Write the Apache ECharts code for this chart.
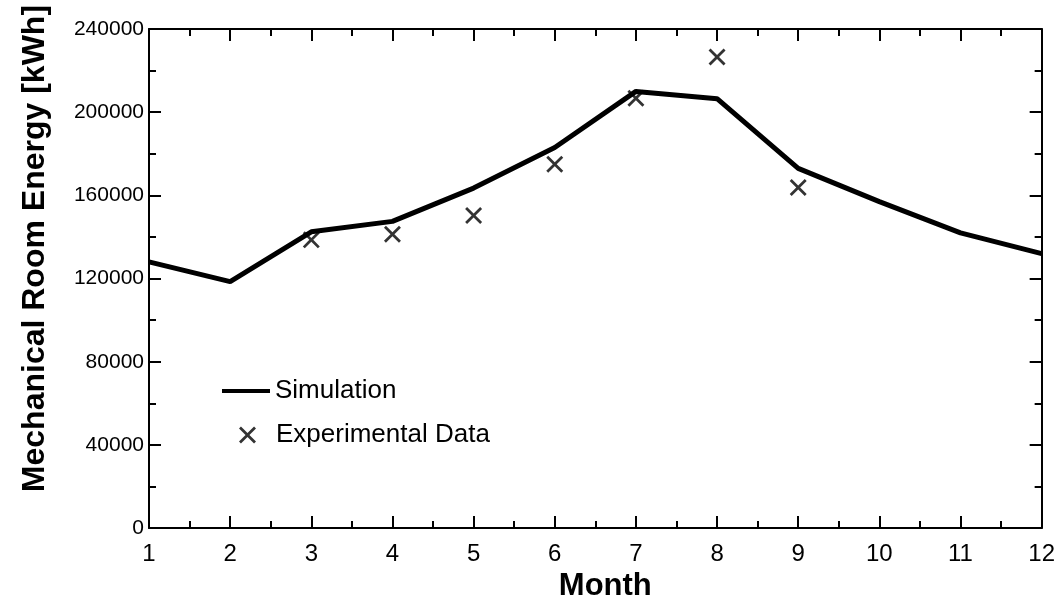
<!DOCTYPE html>
<html>
<head>
<meta charset="utf-8">
<title>Mechanical Room Energy</title>
<script src="https://cdn.jsdelivr.net/npm/echarts@6/dist/echarts.min.js"></script>
<style>
  html,body{margin:0;padding:0;background:#fff;}
  #chart{width:1058px;height:607px;}
</style>
</head>
<body>
<div id="chart"></div>
<script>
// data
var months = [1,2,3,4,5,6,7,8,9,10,11,12];
var simValues = [128000,118500,142500,147500,163500,183000,210000,206500,173000,157000,142000,132000];
var expMonths = [3,4,5,6,7,8,9];
var expValues = [138600,141300,150300,175000,206700,226500,163800];
var yTicks = [0,40000,80000,120000,160000,200000,240000];

var FONT = '"Liberation Sans", Arial, sans-serif';
// cross marker, drawn as a filled outline
var CROSS = 'path://M0,2.3L2.3,0L10,7.7L17.7,0L20,2.3L12.3,10L20,17.7L17.7,20L10,12.3L2.3,20L0,17.7L7.7,10Z';

var simData = [], expData = [];
for (var i = 0; i < months.length; i++) simData.push([months[i], simValues[i]]);
for (var j = 0; j < expMonths.length; j++) expData.push([expMonths[j], expValues[j]]);

function axisBase(pos, isX, show){
    return {
        type:'value',
        position:pos,
        min: isX ? months[0] : yTicks[0],
        max: isX ? months[months.length-1] : yTicks[yTicks.length-1],
        interval: isX ? 1 : 40000,
        axisLine:{show:true,onZero:false,lineStyle:{color:'#000',width:2}},
        axisTick:{show:true,inside:true,length:12,lineStyle:{color:'#000',width:2}},
        minorTick:{show:true,splitNumber:2,length:7,lineStyle:{color:'#000',width:2}},
        splitLine:{show:false},
        axisLabel:{
            show:show,color:'#000',fontFamily:FONT,fontSize:isX?24:21,margin:isX?14:5,
            formatter:function(v){ return String(v); } // no thousands separator
        }
    };
}

var xMain = axisBase('bottom', true, true);
xMain.name = 'Month';
xMain.nameLocation = 'middle';
xMain.nameGap = 40;
xMain.nameTextStyle = {color:'#000',fontFamily:FONT,fontSize:31,fontWeight:'bold',padding:[0,0,0,20]};

var yMain = axisBase('left', false, true);
yMain.name = 'Mechanical Room Energy [kWh]';
yMain.nameLocation = 'middle';
yMain.nameGap = 98;
yMain.nameTextStyle = {color:'#000',fontFamily:FONT,fontSize:32,fontWeight:'bold',padding:[0,0,0,60]};

var xTop = axisBase('top', true, false);
var yRight = axisBase('right', false, false);

var chart = echarts.init(document.getElementById('chart'), null, {renderer:'canvas'});
chart.setOption({
    animation:false,
    backgroundColor:'#fff',
    grid:{left:149,right:16,top:29,bottom:73,containLabel:false},
    xAxis:[xMain, xTop],
    yAxis:[yMain, yRight],
    legend:[{
        data:[{name:'Simulation',icon:'rect'}],
        left:222, top:377, orient:'vertical', padding:0,
        itemWidth:48, itemHeight:4, itemGap:0,
        textStyle:{color:'#000',fontFamily:FONT,fontSize:26,lineHeight:28}
    },{
        data:[{name:'Experimental Data',icon:CROSS}],
        left:239, top:421, orient:'vertical', padding:0,
        itemWidth:17, itemHeight:17, itemGap:0,
        textStyle:{color:'#000',fontFamily:FONT,fontSize:26,lineHeight:28,padding:[0,0,0,15]}
    }],
    series:[{
        name:'Simulation',
        type:'line',
        data:simData,
        symbol:'none',
        color:'#000',
        lineStyle:{color:'#000',width:5},
        z:3
    },{
        name:'Experimental Data',
        type:'scatter',
        data:expData,
        symbol:CROSS,
        symbolSize:17,
        color:'#000',
        itemStyle:{color:'#000'},
        z:4
    }]
});
</script>
</body>
</html>
